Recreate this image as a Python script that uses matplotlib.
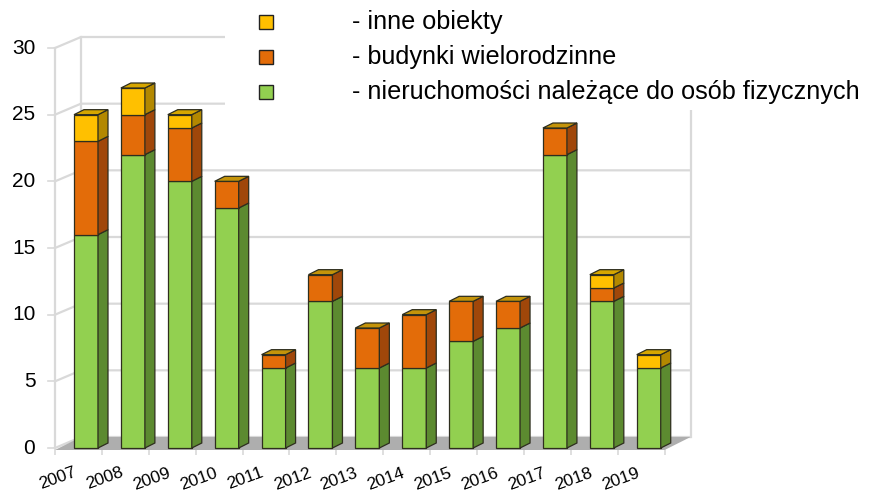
import matplotlib
matplotlib.use("Agg")
from matplotlib import pyplot as plt
from matplotlib.patches import Polygon, Rectangle
import numpy as np

plt.rcParams['font.family'] = ['Liberation Sans', 'DejaVu Sans']

years = ['2007', '2008', '2009', '2010', '2011', '2012', '2013',
         '2014', '2015', '2016', '2017', '2018', '2019']
osoby_fizyczne = np.array([16, 22, 20, 18, 6, 11, 6, 6, 8, 9, 22, 11, 6])
wielorodzinne = np.array([7, 3, 4, 2, 1, 2, 3, 4, 3, 2, 2, 1, 0])
inne = np.array([2, 2, 1, 0, 0, 0, 0, 0, 0, 0, 0, 1, 1])

series = [osoby_fizyczne, wielorodzinne, inne]
labels = ['- nieruchomości należące do osób fizycznych',
          '- budynki wielorodzinne',
          '- inne obiekty']
y_ticks = [0, 5, 10, 15, 20, 25, 30]

# front / side / top colours of each series
front = ['#92d050', '#e36c09', '#ffc000']
side = ['#5c8a30', '#a0470a', '#b38800']
top = ['#b4dc80', '#c4940a', '#d6a600']
edge = '#2e2e1e'

fig = plt.figure(figsize=(8.7, 4.91), dpi=100)
# one category = 46.9 px, one unit = 13.33 px
ax = fig.add_axes([40 / 870, 36 / 491, 680 / 870, 435 / 491])
ax.set_xlim(-0.981, 13.52)
ax.set_ylim(-0.525, 32.1)
ax.axis('off')

n = len(years)
x = np.arange(n)
xf = -0.661              # front of the floor / value axis
xe = xf + n              # right front corner of the floor
dxw, dyw = 0.554, 0.825  # depth of the chart box
dxb, dyb = 0.213, 0.375  # depth of one bar
bw = 0.512
grid = '#d9d9d9'

# walls and grid
for v in y_ticks:
    ax.plot([xf, xf + dxw, xe + dxw], [v, v + dyw, v + dyw], color=grid, lw=1.6, zorder=1)
    ax.plot([xf - 0.15, xf], [v, v], color=grid, lw=1.2, zorder=1)
    ax.text(xf - 0.42, v, str(v), ha='right', va='center', fontsize=15)
ax.plot([xf, xf], [0, y_ticks[-1]], color=grid, lw=1.6, zorder=1)
ax.plot([xf + dxw] * 2, [dyw, y_ticks[-1] + dyw], color=grid, lw=1.6, zorder=1)
ax.plot([xe + dxw] * 2, [dyw, y_ticks[-1] + dyw], color=grid, lw=1.6, zorder=1)

# floor
ax.add_patch(Polygon([(xf, -0.15), (xe, -0.15), (xe + dxw, dyw), (xf + dxw, dyw)],
                     closed=True, facecolor='#aeaeae', edgecolor='none', zorder=2))
for k in range(n + 1):
    ax.plot([xf + k, xf + k], [-0.15, -0.55], color=grid, lw=1.2, zorder=1)

# bars
for i in range(n):
    xl, xr = x[i] - bw / 2, x[i] + bw / 2
    base = 0.0
    last = 0
    for s, vals in enumerate(series):
        h = vals[i]
        if h <= 0:
            continue
        ax.add_patch(Rectangle((xl, base), bw, h, facecolor=front[s],
                               edgecolor=edge, lw=0.9, zorder=4))
        ax.add_patch(Polygon([(xr, base), (xr + dxb, base + dyb),
                              (xr + dxb, base + h + dyb), (xr, base + h)],
                             closed=True, facecolor=side[s], edgecolor=edge,
                             lw=0.9, zorder=4))
        base += h
        last = s
    ax.add_patch(Polygon([(xl, base), (xr, base), (xr + dxb, base + dyb),
                          (xl + dxb, base + dyb)], closed=True,
                         facecolor=top[last], edgecolor=edge, lw=0.9, zorder=4))
    ax.text(x[i] - 0.6, -2.3, years[i], rotation=20, ha='center', va='center',
            fontsize=12.5)

# legend box (white, hides grid behind it)
fig.add_artist(Rectangle((225 / 870, 1 - 110 / 491), 645 / 870, 110 / 491,
                         transform=fig.transFigure, facecolor='white',
                         edgecolor='none', zorder=3))
for s, yc in zip([2, 1, 0], [22, 57, 92]):
    fig.add_artist(Rectangle((259 / 870, 1 - (yc + 7) / 491), 14 / 870, 14 / 491,
                             transform=fig.transFigure, facecolor=front[s],
                             edgecolor='#222222', lw=1.0, zorder=5))
    fig.text(352 / 870, 1 - yc / 491, labels[s], ha='left', va='center',
             fontsize=18.2, zorder=5)

fig.savefig('out.png', dpi=100)
